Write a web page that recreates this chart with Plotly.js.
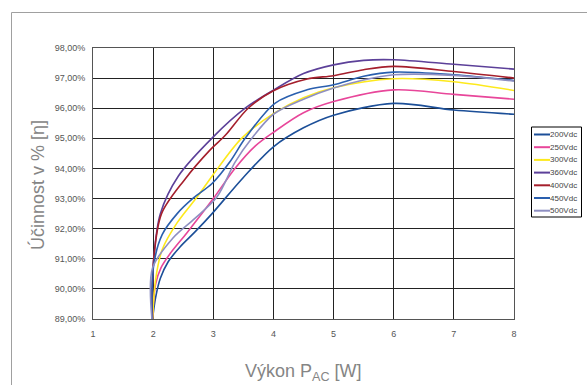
<!DOCTYPE html>
<html>
<head>
<meta charset="utf-8">
<script src="https://cdn.plot.ly/plotly-3.0.1.min.js"></script>
<style>
html,body{margin:0;padding:0;background:#fff;}
#chart{width:587px;height:385px;}
</style>
</head>
<body>
<div id="chart"></div>
<script>
// ---- data ----
const seriesNames = ['200Vdc','250Vdc','300Vdc','360Vdc','400Vdc','450Vdc','500Vdc'];
const seriesColors = ['#1c4f98','#e8469a','#fde91c','#5c4099','#a51f2c','#2a5fae','#8e8fc2'];

const x200 = [1.99,2.04,2.12,2.25,2.45,2.7,2.98,3.5,4.0,4.5,5,6,7,8];
const y200 = [89,89.7,90.35,90.9,91.4,91.9,92.5,93.7,94.72,95.35,95.77,96.16,95.94,95.8];

const x250 = [1.99,2.04,2.13,2.3,2.56,3.0,3.36,3.7,4.0,4.5,5,6,7,8];
const y250 = [89,90.15,90.7,91.22,91.86,93.0,94.0,94.75,95.2,95.85,96.22,96.61,96.46,96.3];

const x300 = [1.99,2.04,2.15,2.4,2.75,3.0,3.47,4.0,4.5,5,6,7,8];
const y300 = [89,90.3,91.3,92.2,93.1,93.8,95.0,95.82,96.35,96.68,96.98,96.88,96.59];

const x360 = [1.98,2.01,2.12,2.42,3.0,3.53,4.0,4.5,5,5.5,6,7,8];
const y360 = [89,91,92.5,93.75,95.05,96.0,96.6,97.15,97.44,97.59,97.61,97.46,97.3];

const x400 = [1.98,2.01,2.14,2.52,2.94,3.2,3.58,4.0,4.56,5,5.5,6,7,8];
const y400 = [89,91,92.5,93.62,94.6,95.1,96.0,96.58,96.97,97.08,97.28,97.39,97.22,97.0];

const x450 = [1.98,2.01,2.15,2.4,2.67,2.98,3.28,3.53,4.03,4.56,5,5.5,6,7,8];
const y450 = [89,90.8,91.8,92.5,93.02,93.5,94.23,95.0,96.17,96.61,96.78,97.06,97.2,97.11,96.92];

const x500 = [1.98,1.99,2.33,2.67,3.06,3.36,3.64,4.0,4.5,5,5.5,6,7,8];
const y500 = [89,90.69,91.69,92.3,93.05,94.2,95.0,95.8,96.3,96.67,96.94,97.11,97.09,96.9];

const xTickVals = [1,2,3,4,5,6,7,8];
const xTickText = ['1','2','3','4','5','6','7','8'];
const yTickVals = [89,90,91,92,93,94,95,96,97,98];
const yTickText = ['89,00%','90,00%','91,00%','92,00%','93,00%','94,00%','95,00%','96,00%','97,00%','98,00%'];

const xs = [x200,x250,x300,x360,x400,x450,x500];
const ys = [y200,y250,y300,y360,y400,y450,y500];

// ---- layout helpers (pixel -> paper) ----
const W = 587, H = 385;
const L = 93, R = 514, T = 48, B = 319;
const px = v => (v - L) / (R - L);
const py = v => (B - v) / (B - T);
const FONT = 'Liberation Sans, Arial, sans-serif';

const traces = seriesNames.map((n, i) => ({
  type: 'scatter', mode: 'lines', name: n,
  x: xs[i], y: ys[i],
  line: {color: seriesColors[i], width: 1.6, shape: 'spline', smoothing: 0.9},
  showlegend: false, hoverinfo: 'skip'
}));

const shapes = [
  // outer frame
  {type:'rect', xref:'paper', yref:'paper', x0:px(11.5), x1:px(620), y0:py(12.5), y1:py(420),
   line:{color:'#a0a0a0', width:1}, fillcolor:'rgba(0,0,0,0)', layer:'below'},
  // legend box
  {type:'rect', xref:'paper', yref:'paper', x0:px(531.5), x1:px(581.5), y0:py(127), y1:py(217),
   line:{color:'#000', width:1}, fillcolor:'#fff'}
];
const annotations = [
  {xref:'paper', yref:'paper', x:px(303.5), y:py(372), text:'Výkon P<sub>AC</sub> [W]', showarrow:false,
   xanchor:'center', yanchor:'middle', font:{family:FONT, size:18, color:'#858585'}},
  {xref:'paper', yref:'paper', x:px(37), y:py(185), text:'Účinnost v % [η]', showarrow:false, textangle:-90,
   xanchor:'center', yanchor:'middle', font:{family:FONT, size:18, color:'#858585'}}
];
seriesNames.forEach((n, i) => {
  const yy = 134.5 + i * 12.7;
  shapes.push({type:'line', xref:'paper', yref:'paper', x0:px(534), x1:px(550), y0:py(yy), y1:py(yy),
    line:{color:seriesColors[i], width:2}});
  annotations.push({xref:'paper', yref:'paper', x:px(549), y:py(yy), text:n, showarrow:false,
    xanchor:'left', yanchor:'middle', borderpad:0, font:{family:FONT, size:8, color:'#444'}});
});

const layout = {
  width: W, height: H,
  margin: {l: L, r: W - R, t: T, b: H - B, pad: 0},
  paper_bgcolor: '#fff', plot_bgcolor: '#fff',
  showlegend: false,
  xaxis: {range:[1,8], tickvals:xTickVals, ticktext:xTickText, showgrid:true, gridcolor:'#222', gridwidth:1,
    zeroline:false, showline:true, linecolor:'#555', mirror:true, ticks:'outside', ticklen:6, tickcolor:'rgba(0,0,0,0)',
    tickfont:{family:FONT, size:9, color:'#555'}, fixedrange:true},
  yaxis: {range:[89,98], tickvals:yTickVals, ticktext:yTickText, showgrid:true, gridcolor:'#222', gridwidth:1,
    zeroline:false, showline:true, linecolor:'#555', mirror:true, ticks:'outside', ticklen:5, tickcolor:'rgba(0,0,0,0)',
    tickfont:{family:FONT, size:9, color:'#555'}, fixedrange:true},
  shapes: shapes,
  annotations: annotations
};

Plotly.newPlot('chart', traces, layout, {staticPlot:true, displayModeBar:false});
</script>
</body>
</html>
